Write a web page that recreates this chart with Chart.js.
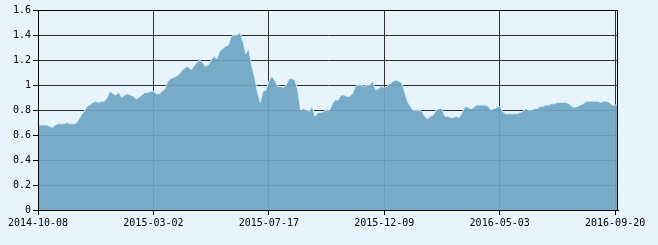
<!DOCTYPE html>
<html lang="zh">
<head>
  <meta charset="UTF-8">
  <title>净值走势</title>
  <script src="https://cdn.jsdelivr.net/npm/chart.js"></script>
  <style>
    html, body { margin: 0; padding: 0; background: #e8f4fc; }
    canvas { display: block; }
  </style>
</head>
<body>
  <canvas id="chartNav" width="658" height="245"></canvas>

  <script>
    // x-axis tick labels, one every 40 points
    const tickLabels = ['2014-10-08', '2015-03-02', '2015-07-17', '2015-12-09', '2016-05-03', '2016-09-20'];
    const tickEvery = 40;

    // series values
    const navValues = [
      0.68, 0.68, 0.68, 0.68, 0.67, 0.66, 0.68, 0.69, 0.69, 0.69,
      0.70, 0.69, 0.69, 0.69, 0.72, 0.76, 0.79, 0.83, 0.84, 0.86,
      0.87, 0.86, 0.87, 0.87, 0.90, 0.95, 0.93, 0.92, 0.94, 0.90,
      0.92, 0.93, 0.92, 0.91, 0.89, 0.90, 0.92, 0.94, 0.94, 0.95,
      0.95, 0.93, 0.93, 0.95, 0.97, 1.03, 1.05, 1.06, 1.07, 1.09,
      1.12, 1.14, 1.15, 1.12, 1.15, 1.18, 1.20, 1.18, 1.15, 1.16,
      1.20, 1.23, 1.21, 1.27, 1.29, 1.31, 1.32, 1.39, 1.40, 1.40,
      1.42, 1.35, 1.25, 1.29, 1.16, 1.07, 0.95, 0.86, 0.95, 0.96,
      1.03, 1.07, 1.04, 0.99, 0.99, 0.98, 1.00, 1.05, 1.05, 1.04,
      0.96, 0.80, 0.81, 0.80, 0.79, 0.83, 0.75, 0.78, 0.78, 0.79,
      0.80, 0.80, 0.85, 0.88, 0.88, 0.92, 0.92, 0.91, 0.91, 0.93,
      0.99, 1.00, 1.00, 0.99, 1.00, 1.00, 1.03, 0.96, 0.97, 0.99,
      0.98, 0.99, 1.01, 1.03, 1.04, 1.03, 1.02, 0.95, 0.87, 0.83,
      0.80, 0.80, 0.80, 0.79, 0.75, 0.73, 0.75, 0.76, 0.80, 0.81,
      0.81, 0.75, 0.75, 0.74, 0.74, 0.75, 0.74, 0.78, 0.83, 0.82,
      0.81, 0.82, 0.84, 0.84, 0.84, 0.84, 0.83, 0.80, 0.81, 0.82,
      0.83, 0.79, 0.77, 0.77, 0.77, 0.77, 0.77, 0.78, 0.79, 0.81,
      0.80, 0.80, 0.81, 0.81, 0.83, 0.83, 0.84, 0.84, 0.85, 0.85,
      0.86, 0.86, 0.86, 0.86, 0.85, 0.83, 0.82, 0.83, 0.84, 0.85,
      0.87, 0.87, 0.87, 0.87, 0.87, 0.86, 0.87, 0.87, 0.86, 0.84,
      0.84, 0.84
    ];

    const labels = navValues.map((v, i) => i % tickEvery === 0 ? tickLabels[i / tickEvery] : '');

    // black frame round the plot, drawn over the fill
    const frame = {
      id: 'frame',
      afterDatasetsDraw(chart) {
        const { ctx, chartArea: a } = chart;
        ctx.save();
        ctx.strokeStyle = '#000';
        ctx.lineWidth = 1;
        ctx.strokeRect(Math.round(a.left) + 0.5, Math.round(a.top) + 0.5,
          Math.round(a.right - a.left) - 1, Math.round(a.bottom - a.top));
        ctx.restore();
      }
    };

    const mono = { family: 'DejaVu Sans Mono', size: 10 };

    new Chart(document.getElementById('chartNav'), {
      type: 'line',
      data: {
        labels: labels,
        datasets: [{
          data: navValues,
          fill: 'origin',
          backgroundColor: 'rgba(110,165,196,0.93)',
          borderColor: '#d2e9f6',
          borderWidth: 1,
          pointRadius: 0,
          tension: 0
        }]
      },
      plugins: [frame],
      options: {
        responsive: false,
        animation: false,
        devicePixelRatio: 1,
        layout: { padding: { top: 10, right: 40, left: 0, bottom: 0 } },
        plugins: { legend: { display: false }, tooltip: { enabled: false } },
        scales: {
          x: {
            offset: false,
            afterFit(scale) { scale.height = 35; },
            grid: { color: '#2e2e2e', tickColor: '#000', tickLength: 5 },
            border: { color: '#000' },
            ticks: {
              autoSkip: false,
              maxRotation: 0,
              minRotation: 0,
              padding: 2,
              color: '#000',
              font: mono,
              callback(val) {
                const l = this.getLabelForValue(val);
                return l === '' ? null : l;
              }
            }
          },
          y: {
            min: 0,
            max: 1.6,
            afterFit(scale) { scale.width = 38; },
            grid: { color: '#2e2e2e', tickColor: '#000', tickLength: 5 },
            border: { color: '#000' },
            ticks: {
              stepSize: 0.2,
              padding: 2,
              color: '#000',
              font: mono,
              callback: v => String(Math.round(v * 10) / 10)
            }
          }
        }
      }
    });
  </script>
</body>
</html>
